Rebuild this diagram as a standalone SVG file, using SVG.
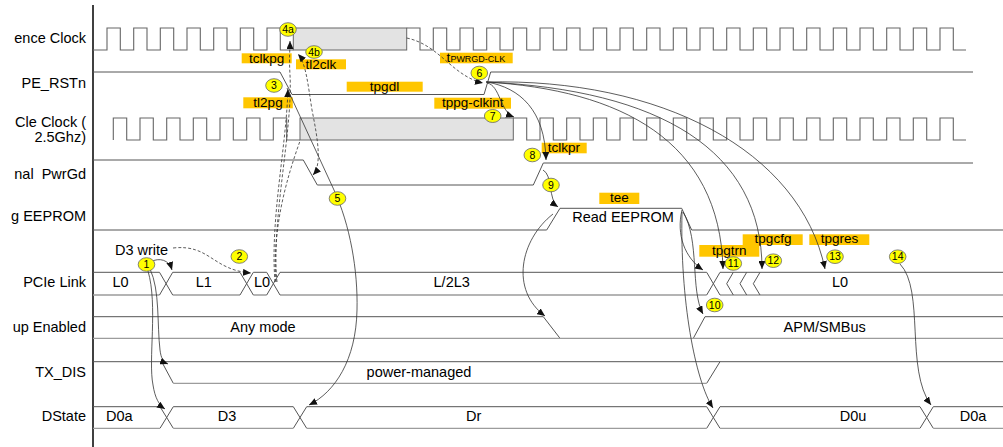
<svg xmlns="http://www.w3.org/2000/svg" width="1003" height="447" viewBox="0 0 1003 447">
<style>
text{font-family:"Liberation Sans",Arial,sans-serif;fill:#000}
.lbl{font-size:14.5px}
.r{text-anchor:end}
.m{text-anchor:middle}
.sig{fill:none;stroke:#555;stroke-width:1}
.lo{fill:none;stroke:#9c9c9c;stroke-width:1.3}
.clk{fill:none;stroke:#666;stroke-width:1.1}
.box{fill:#E3E3E3;stroke:#666;stroke-width:1}
.c{fill:none;stroke:#333;stroke-width:0.8}
.d{stroke-dasharray:3 2}
.tag rect{fill:#FFC600}
.tag text{font-size:13.5px;text-anchor:middle}
.num ellipse{fill:#FFFF00;stroke:#666;stroke-width:0.8}
.num text{font-size:10.5px;text-anchor:middle}
</style>
<defs>
<marker id="ah" viewBox="0 0 8 7" refX="8" refY="3.5" markerWidth="8" markerHeight="7" markerUnits="userSpaceOnUse" orient="auto-start-reverse"><path d="M0,0 L8,3.5 L0,7z" fill="#111"/></marker>
</defs>
<rect width="1003" height="447" fill="#fff"/>
<line x1="93" y1="5" x2="93" y2="447" stroke="#000" stroke-width="1.5"/>

<g id="labels" class="lbl">
<text class="lbl r" x="86" y="43.3">ence Clock</text>
<text class="lbl r" x="86" y="88">PE_RSTn</text>
<text class="lbl r" x="86" y="127">Cle Clock (</text>
<text class="lbl r" x="86" y="141.5">2.5Ghz)</text>
<text class="lbl r" x="86" y="178.5" xml:space="preserve">nal  PwrGd</text>
<text class="lbl r" x="86" y="221">g EEPROM</text>
<text class="lbl r" x="86" y="287">PCIe Link</text>
<text class="lbl r" x="86" y="332">up Enabled</text>
<text class="lbl r" x="86" y="376.5">TX_DIS</text>
<text class="lbl r" x="86" y="420.7">DState</text>
</g>

<g id="refclock">
<path class="clk" d="M93,50 H107 V28 H120.3 V50 H133.7 V28 H147 V50 H160.3 V28 H173.7 V50 H187 V28 H200.3 V50 H213.7 V28 H227 V50 H240.3 V28 H253.7 V50 H267 V28 H280.3 V50 H293.3"/>
<rect class="box" x="293.3" y="28" width="113.4" height="22"/>
<path class="clk" d="M406.7,28 H420 V50 H433.3 V28 H446.7 V50 H460 V28 H473.3 V50 H486.7 V28 H500 V50 H513.3 V28 H526.7 V50 H540 V28 H553.3 V50 H566.7 V28 H580 V50 H593.3 V28 H606.7 V50 H620 V28 H633.3 V50 H646.7 V28 H660 V50 H673.3 V28 H686.7 V50 H700 V28 H713.3 V50 H726.7 V28 H740 V50 H753.3 V28 H766.7 V50 H780 V28 H793.3 V50 H806.7 V28 H820 V50 H833.3 V28 H846.7 V50 H860 V28 H873.3 V50 H886.7 V28 H900 V50 H913.3 V28 H926.7 V50 H940 V28 H953.3 V50 H966"/>
</g>

<g id="pe_rstn">
<path class="sig" d="M93,72 H280 L292,94.5 H484 L490.7,72 H973"/>
</g>

<g id="pcieclock">
<path class="clk" d="M113.3,140 V118 H126.7 V140 H140 V118 H153.3 V140 H166.7 V118 H180 V140 H193.3 V118 H206.7 V140 H220 V118 H233.3 V140 H246.7 V118 H260 V140 H273.3 V118 H286.7 V140 H300"/>
<rect class="box" x="300" y="118" width="213.3" height="22"/>
<path class="clk" d="M513.3,118 H526.7 V140 H540 V118 H553.3 V140 H566.7 V118 H580 V140 H593.3 V118 H606.7 V140 H620 V118 H633.3 V140 H646.7 V118 H660 V140 H673.3 V118 H686.7 V140 H700 V118 H713.3 V140 H726.7 V118 H740 V140 H753.3 V118 H766.7 V140 H780 V118 H793.3 V140 H806.7 V118 H820 V140 H833.3 V118 H846.7 V140 H860 V118 H873.3 V140 H886.7 V118 H900 V140 H913.3 V118 H926.7 V140 H940 V118 H953.3 V140 H966"/>
</g>

<g id="pwrgd">
<path class="sig" d="M93,160 H303.3 L317.3,185 H533.3 L543.3,163 H973"/>
</g>

<g id="eeprom">
<path class="sig" d="M93,230 H546.7 L560,208.3 H681.7 L691.7,230 H1003"/>
<text class="lbl m" x="623" y="221.7">Read EEPROM</text>
</g>

<g id="pcielink">
<path class="sig" d="M93,272.3 H159.5 M172.7,272.3 H240 M253.3,272.3 H266.7 M280,272.3 H706.7 M720,272.3 H1003"/>
<path class="lo" d="M93,295 H159.5 M172.7,295 H240 M253.3,295 H266.7 M280,295 H706.7 M720,295 H1003"/>
<path class="sig" d="M159.5,272.3 L172.7,295 M159.5,295 L172.7,272.3 M240,272.3 L253.3,295 M240,295 L253.3,272.3 M266.7,272.3 L280,295 M266.7,295 L280,272.3 M706.7,272.3 L720,295 M706.7,295 L720,272.3 M733.3,272.3 L726.7,283.7 L733.3,295 M746.7,272.3 L740,283.7 L746.7,295 M760,272.3 L753.3,283.7 L760,295"/>
<text class="lbl m" x="120.5" y="287">L0</text>
<text class="lbl m" x="203.7" y="287">L1</text>
<text class="lbl m" x="262" y="287">L0</text>
<text class="lbl m" x="451.7" y="287">L/2L3</text>
<text class="lbl m" x="840" y="287">L0</text>
</g>

<g id="wakeup">
<path class="sig" d="M93,316.7 H543.3 L560,338.3 M693.3,338.3 L705,316.7 H1003"/>
<path class="lo" d="M93,338.3 H1003"/>
<text class="lbl m" x="263" y="332">Any mode</text>
<text class="lbl m" x="824.7" y="332">APM/SMBus</text>
</g>

<g id="txdis">
<path class="sig" d="M93,361.7 H1003 M161.7,361.7 L173.3,383.3 M706.7,383.3 L720,361.7"/>
<path class="lo" d="M173.3,383.3 H706.7"/>
<text class="lbl m" x="419" y="376.5">power-managed</text>
</g>

<g id="dstate">
<path class="sig" d="M93,406.7 H160 M173.3,406.7 H293.3 M306.7,406.7 H706.7 M720,406.7 H920 M933.3,406.7 H1003 M160,406.7 L173.3,428.3 M160,428.3 L173.3,406.7 M293.3,406.7 L306.7,428.3 M293.3,428.3 L306.7,406.7 M706.7,406.7 L720,428.3 M706.7,428.3 L720,406.7 M920,406.7 L933.3,428.3 M920,428.3 L933.3,406.7"/>
<path class="lo" d="M93,428.3 H160 M173.3,428.3 H293.3 M306.7,428.3 H706.7 M720,428.3 H920 M933.3,428.3 H1003"/>
<text class="lbl m" x="119.3" y="420.7">D0a</text>
<text class="lbl m" x="227" y="420.7">D3</text>
<text class="lbl m" x="473.7" y="420.7">Dr</text>
<text class="lbl m" x="853" y="420.7">D0u</text>
<text class="lbl m" x="973" y="420.7">D0a</text>
</g>

<text id="d3write" class="lbl" x="115" y="254.5">D3 write</text>

<g id="tags" class="tag">
<rect x="241.7" y="53.3" width="50" height="10"/><text x="266.7" y="62.5">tclkpg</text>
<rect x="296" y="59.3" width="50" height="10"/><text x="321" y="69">tl2clk</text>
<rect x="243.3" y="97.3" width="49.5" height="11"/><text x="268" y="107">tl2pg</text>
<rect x="346.7" y="81.7" width="76" height="10"/><text x="384.5" y="91">tpgdl</text>
<rect x="440" y="52.7" width="72.7" height="10.6"/><text x="476" y="62" style="text-anchor:middle">t<tspan style="font-size:9px">PWRGD-CLK</tspan></text>
<rect x="434.3" y="97.7" width="76.7" height="11"/><text x="472.7" y="107">tppg-clkint</text>
<rect x="541.7" y="142.7" width="45" height="10.6"/><text x="564" y="152">tclkpr</text>
<rect x="599.3" y="192.7" width="40" height="11.3"/><text x="619.3" y="202.3">tee</text>
<rect x="742.7" y="234.3" width="60" height="10.7"/><text x="773" y="243.3">tpgcfg</text>
<rect x="699.3" y="245" width="60" height="11.7"/><text x="729.3" y="255">tpgtrn</text>
<rect x="809.3" y="234.3" width="60" height="10.7"/><text x="839.5" y="243.3">tpgres</text>
</g>

<g id="connectors">
<path class="c" d="M150,262 C160,257 169,260 172,270" marker-end="url(#ah)"/>
<path class="c" d="M150,269 C160,290 157,325 160,350 C161,358 163,362 168,364" marker-end="url(#ah)"/>
<path class="c" d="M148,271 C158,305 148,360 153,385 C155,398 159,405 165,409" marker-end="url(#ah)"/>
<path class="c d" d="M173,248 C210,244 212,270 251,273" marker-end="url(#ah)"/>
<path class="c d" d="M275,282 C270,220 286,150 288,89" marker-end="url(#ah)"/>
<path class="c d" d="M277,282 C271,220 293,130 290,75 C289,58 290,50 290,41" marker-end="url(#ah)"/>
<path class="c d" d="M276,282 C272,230 286,180 300,141"/>
<path class="c d" d="M313,175 C322,165 318,140 312,110 C308,85 306,63 298,54" marker-start="url(#ah)" marker-end="url(#ah)"/>
<path class="c" d="M287,88 L334,190 C350,225 358,270 357,310 C356,360 335,392 309,405" marker-end="url(#ah)"/>
<path class="c d" d="M406.7,38 C440,45 452,76 483,83" marker-end="url(#ah)"/>
<path class="c" d="M487,83 C500,85 500,112 514,117" marker-end="url(#ah)"/>
<path class="c" d="M487,82 C520,88 545,110 546,160" marker-end="url(#ah)"/>
<path class="c" d="M543,170 C553,175 548,200 558,207" marker-end="url(#ah)"/>
<path class="c" d="M553,214 C520,240 510,290 545,316" marker-end="url(#ah)"/>
<path class="c" d="M486,82 C620,90 720,140 723,269" marker-end="url(#ah)"/>
<path class="c" d="M486,82 C660,90 762,150 762,269" marker-end="url(#ah)"/>
<path class="c" d="M486,82 C660,78 800,150 825,269" marker-end="url(#ah)"/>
<path class="c" d="M682,210 C676,235 685,258 703,270" marker-end="url(#ah)"/>
<path class="c" d="M683,212 C700,240 690,290 703,314" marker-end="url(#ah)"/>
<path class="c" d="M682,212 C680,300 695,380 713,408" marker-end="url(#ah)"/>
<path class="c" d="M900,264 C925,290 905,370 931,405" marker-end="url(#ah)"/>
</g>

<g id="markers" class="num">
<g id="m1"><ellipse cx="146.5" cy="264.5" rx="8.3" ry="6.8"/><text x="146.5" y="268.2">1</text></g>
<g id="m2"><ellipse cx="239.3" cy="256.5" rx="8.3" ry="6.8"/><text x="239.3" y="260.2">2</text></g>
<g id="m3"><ellipse cx="274" cy="85.5" rx="8.3" ry="6.8"/><text x="274" y="89.2">3</text></g>
<g id="m4a"><ellipse cx="288" cy="29.5" rx="8.3" ry="6.8"/><text x="288" y="33.2">4a</text></g>
<g id="m4b"><ellipse cx="314" cy="52" rx="8.3" ry="6.3"/><text x="314" y="55.6">4b</text></g>
<g id="m5"><ellipse cx="337.5" cy="198.5" rx="8.3" ry="6.8"/><text x="337.5" y="202.2">5</text></g>
<g id="m6"><ellipse cx="479.3" cy="73" rx="8.3" ry="6.8"/><text x="479.3" y="76.7">6</text></g>
<g id="m7"><ellipse cx="492.7" cy="116" rx="8.3" ry="6.5"/><text x="492.7" y="119.6">7</text></g>
<g id="m8"><ellipse cx="532.3" cy="155" rx="8.3" ry="6.8"/><text x="532.3" y="158.7">8</text></g>
<g id="m9"><ellipse cx="551" cy="185" rx="8.3" ry="6.8"/><text x="551" y="188.7">9</text></g>
<g id="m10"><ellipse cx="714.7" cy="305" rx="8.3" ry="6.8"/><text x="714.7" y="308.7">10</text></g>
<g id="m11"><ellipse cx="733.3" cy="263.5" rx="8.3" ry="6.8"/><text x="733.3" y="267.2">11</text></g>
<g id="m12"><ellipse cx="773.3" cy="260.7" rx="8.3" ry="6.8"/><text x="773.3" y="264.4">12</text></g>
<g id="m13"><ellipse cx="835" cy="256.7" rx="8.3" ry="6.8"/><text x="835" y="260.4">13</text></g>
<g id="m14"><ellipse cx="897.7" cy="256.7" rx="8.3" ry="6.8"/><text x="897.7" y="260.4">14</text></g>
</g>
</svg>
